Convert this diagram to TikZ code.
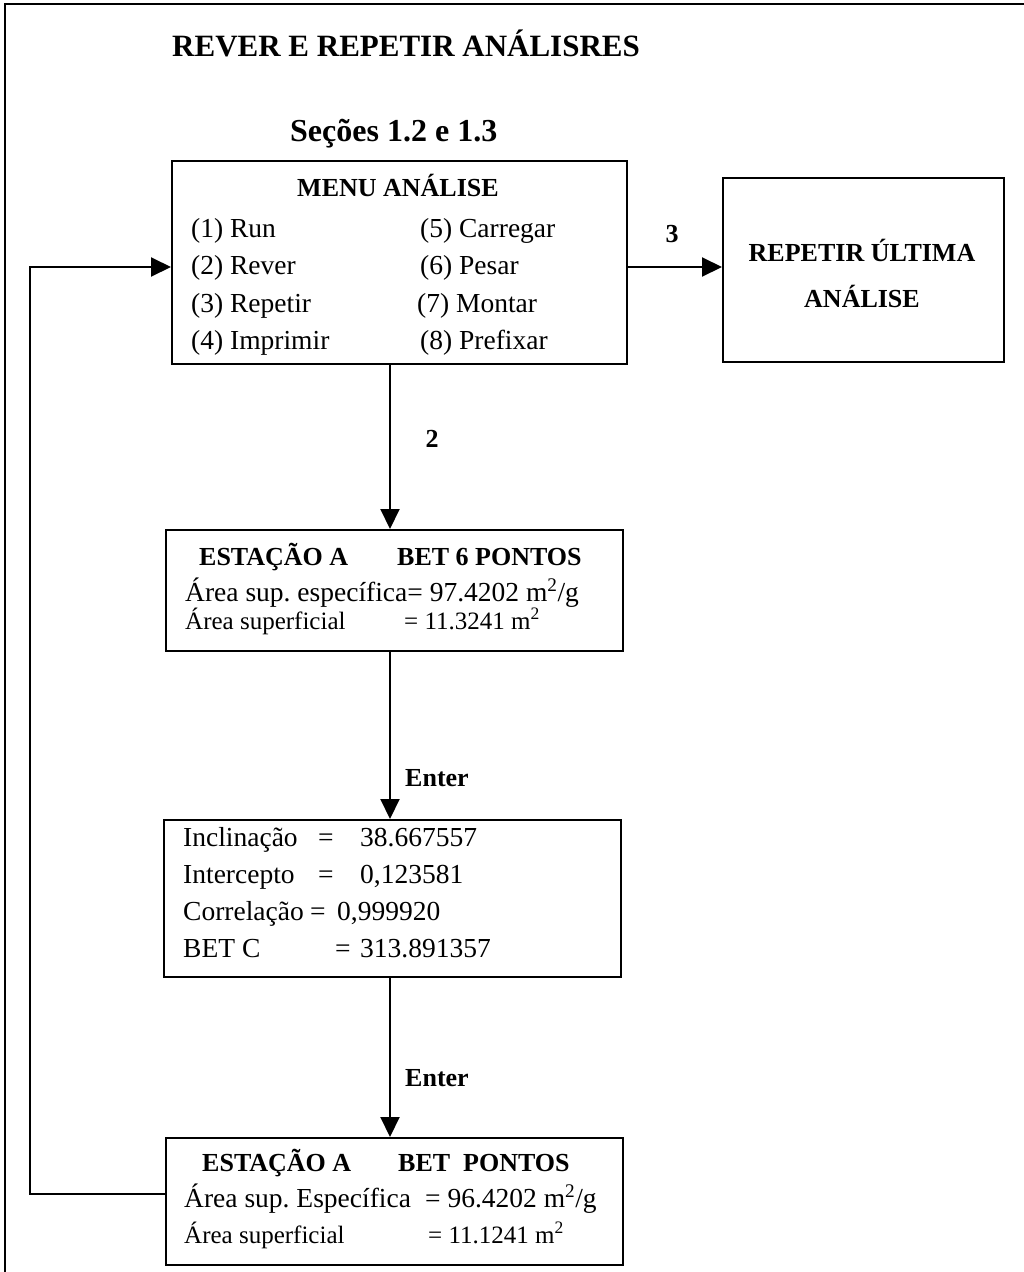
\documentclass[tikz,border=0pt]{standalone}
\usepackage{fontspec}
\setmainfont{Liberation Serif}
\usetikzlibrary{arrows.meta}
\frenchspacing
\newcommand{\rg}{\fontsize{27.5}{32}\selectfont}
\newcommand{\sm}{\fontsize{25}{29}\selectfont}
\newcommand{\bd}{\fontsize{26}{31}\selectfont\bfseries}
\tikzset{
  box/.style={draw, line width=2.2pt, inner sep=0pt, anchor=north west},
  tl/.style={anchor=base west, inner sep=0pt, font=\rg},
  ts/.style={anchor=base west, inner sep=0pt, font=\sm},
  tb/.style={anchor=base west, inner sep=0pt, font=\bd},
  tbc/.style={anchor=base, inner sep=0pt, font=\bd},
  arr/.style={line width=2pt, -{Triangle[length=20pt,width=19pt]}},
}
\begin{document}
\begin{tikzpicture}[x=1pt,y=-1pt]
\useasboundingbox (0,0) rectangle (1024,1272);
% outer frame
\draw[line width=2.5pt] (5,1272) -- (5,4) -- (1024,4);
% titles
\node[tb, font=\fontsize{31}{36}\selectfont\bfseries] (title) at (172,56) {REVER E REPETIR ANÁLISRES};
\node[tb, font=\fontsize{32}{38}\selectfont\bfseries] (secoes) at (290,141) {Seções 1.2 e 1.3};
% boxes
\node[box, minimum width=455pt, minimum height=203pt] (menu) at (171,160) {};
\node[box, minimum width=281pt, minimum height=184pt] (rep) at (722,177) {};
\node[box, minimum width=457pt, minimum height=121pt] (est) at (165,529) {};
\node[box, minimum width=457pt, minimum height=157pt] (inc) at (163,819) {};
\node[box, minimum width=457pt, minimum height=127pt] (bot) at (165,1137) {};
% menu text
\node[tbc] (mhead) at (398,196) {MENU ANÁLISE};
\node[tl] (m1) at (191,237) {(1) Run};
\node[tl] (m2) at (191,274) {(2) Rever};
\node[tl] (m3) at (191,312) {(3) Repetir};
\node[tl] (m4) at (191,349) {(4) Imprimir};
\node[tl] (m5) at (420,237) {(5) Carregar};
\node[tl] (m6) at (420,274) {(6) Pesar};
\node[tl] (m7) at (417,312) {(7) Montar};
\node[tl] (m8) at (420,349) {(8) Prefixar};
% repeat box text
\node[tbc] (r1) at (862,261) {REPETIR ÚLTIMA};
\node[tbc] (r2) at (862,307) {ANÁLISE};
% estacao box
\node[tb] (e1) at (199,565) {ESTAÇÃO A};
\node[tb] (e2) at (397,565) {BET 6 PONTOS};
\node[tl] (e3) at (185,601) {Área sup. específica= 97.4202 m\textsuperscript{2}/g};
\node[ts] (e4) at (185,629) {Área superficial};
\node[ts] (e5) at (404,629) {= 11.3241 m\textsuperscript{2}};
% inclinacao box
\node[tl] (i1) at (183,846) {Inclinação};
\node[tl] (i1e) at (318,846) {=};
\node[tl] (i1v) at (360,846) {38.667557};
\node[tl] (i2) at (183,883) {Intercepto};
\node[tl] (i2e) at (318,883) {=};
\node[tl] (i2v) at (360,883) {0,123581};
\node[tl] (i3) at (183,920) {Correlação};
\node[tl] (i3e) at (310,920) {=};
\node[tl] (i3v) at (337,920) {0,999920};
\node[tl] (i4) at (183,957) {BET C};
\node[tl] (i4e) at (335,957) {=};
\node[tl] (i4v) at (360,957) {313.891357};
% bottom box
\node[tb] (b1) at (202,1171) {ESTAÇÃO A};
\node[tb] (b2) at (398,1171) {BET\ \ PONTOS};
\node[tl] (b3) at (184,1207) {Área sup. Específica};
\node[tl] (b3v) at (425,1207) {= 96.4202 m\textsuperscript{2}/g};
\node[ts] (b4) at (184,1243) {Área superficial};
\node[ts] (b4v) at (428,1243) {= 11.1241 m\textsuperscript{2}};
% connector coordinates
\coordinate (cx) at (390,0);
\coordinate (a3y) at (0,267);
\coordinate (fbA) at (30,1194);
\coordinate (fbB) at (30,267);
% connectors
\draw[arr] (menu.east |- a3y) -- (rep.west |- a3y);
\node[tbc] (l3) at (672,242) {3};
\draw[arr] (menu.south -| cx) -- (est.north -| cx);
\node[tbc] (l2) at (432,447) {2};
\draw[arr] (est.south -| cx) -- (inc.north -| cx);
\node[tb] (l4) at (405,786) {Enter};
\draw[arr] (inc.south -| cx) -- (bot.north -| cx);
\node[tb] (l5) at (405,1086) {Enter};
\draw[arr] (bot.west |- fbA) -- (fbA) -- (fbB) -- (menu.west |- fbB);
\end{tikzpicture}
\end{document}
